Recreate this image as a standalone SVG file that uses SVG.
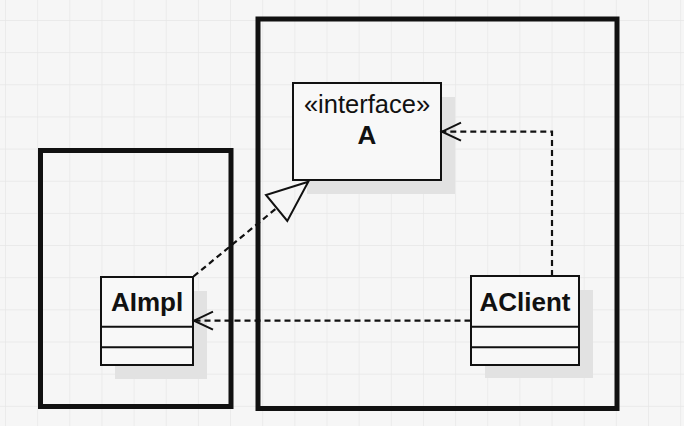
<svg xmlns="http://www.w3.org/2000/svg" width="684" height="426" viewBox="0 0 684 426">
<defs>
<pattern id="grid" x="5" y="20" width="32.15" height="32.15" patternUnits="userSpaceOnUse">
<path d="M0 0V32.15M0 0H32.15" fill="none" stroke="#e6e6e6" stroke-width="1.3"/>
</pattern>
<marker id="open" markerWidth="24" markerHeight="24" refX="21" refY="10" orient="auto" markerUnits="userSpaceOnUse" viewBox="0 0 24 20">
<path d="M2 1 L21 10 L2 19" fill="none" stroke="#111" stroke-width="2"/>
</marker>
</defs>
<style>
.pkg{fill:none;stroke:#111;stroke-width:5}
.box{fill:#f8f8f8;stroke:#111;stroke-width:2}
.shadow{fill:#e2e2e2}
.sep{stroke:#111;stroke-width:2}
.dash{fill:none;stroke:#111;stroke-width:2.2;stroke-dasharray:6 4}
.t{font-family:"Liberation Sans",Arial,sans-serif;fill:#111;text-anchor:middle}
.b{font-weight:bold;font-size:26px}
</style>
<rect width="684" height="426" fill="#f6f6f6"/>
<rect width="684" height="426" fill="url(#grid)"/>
<g id="pkgLeft"><rect class="pkg" x="40.5" y="150.5" width="190.5" height="256"/></g>
<g id="pkgRight"><rect class="pkg" x="258" y="19" width="359" height="389.5"/></g>
<g id="A">
<rect class="shadow" x="307" y="97" width="148" height="97"/>
<rect class="box" x="293" y="83" width="148" height="97"/>
<text class="t" x="367" y="113" font-size="25.5">«interface»</text>
<text class="t b" x="367" y="144">A</text>
</g>
<g id="AImpl">
<rect class="shadow" x="115" y="291" width="92" height="88"/>
<rect class="box" x="101" y="277" width="92" height="88"/>
<line class="sep" x1="101" y1="326.7" x2="193" y2="326.7"/>
<line class="sep" x1="101" y1="347.3" x2="193" y2="347.3"/>
<text class="t b" x="147" y="310.5">AImpl</text>
</g>
<g id="AClient">
<rect class="shadow" x="485" y="290" width="108" height="88"/>
<rect class="box" x="471" y="276" width="108" height="89"/>
<line class="sep" x1="471" y1="326.7" x2="579" y2="326.7"/>
<line class="sep" x1="471" y1="347.3" x2="579" y2="347.3"/>
<text class="t b" x="525" y="310.5">AClient</text>
</g>
<g id="connectors">
<path class="dash" d="M193.5 276.5 L276.7 208"/>
<path d="M308.3 181.7 L266 195 L287.3 221 Z" fill="none" stroke="#111" stroke-width="2" stroke-linejoin="miter"/>
<path class="dash" d="M552 276 V131.7 H442" marker-end="url(#open)"/>
<path class="dash" d="M470.5 320.7 H194" marker-end="url(#open)"/>
</g>
</svg>
